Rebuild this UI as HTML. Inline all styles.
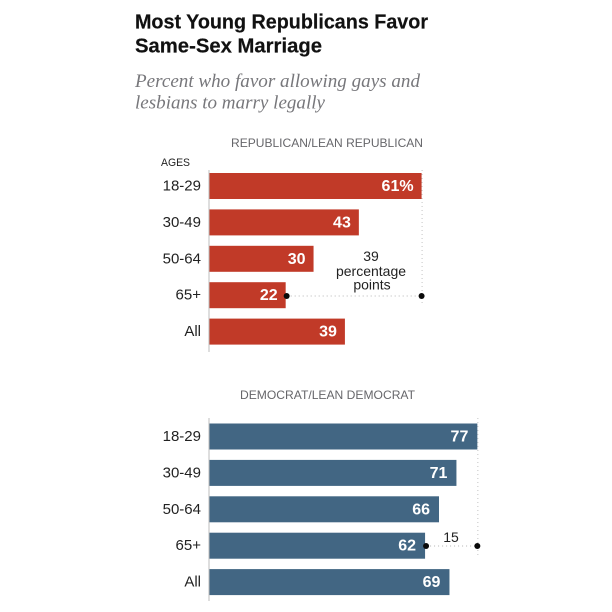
<!DOCTYPE html>
<html lang="en">
<head>
<meta charset="utf-8">
<title>Most Young Republicans Favor Same-Sex Marriage</title>
<style>
  html, body { margin: 0; padding: 0; background: #fff; }
  svg { display: block; filter: blur(0.35px); }
  text { font-family: "Liberation Sans", sans-serif; }
  .title { font-size: 20px; font-weight: 700; fill: #111; stroke: #111; stroke-width: 0.2px; }
  .sub { font-family: "Liberation Serif", serif; font-size: 18.5px; font-style: italic; fill: #77777b; }
  .head { font-size: 12px; fill: #66666a; }
  .cat { font-size: 15px; fill: #222; text-anchor: end; }
  .val { font-size: 16px; font-weight: 700; fill: #fff; text-anchor: end; }
  .note { font-size: 14px; fill: #222; text-anchor: middle; }
</style>
</head>
<body>
<svg id="chart" width="612" height="612" viewBox="0 0 612 612" xmlns="http://www.w3.org/2000/svg">
  <rect width="612" height="612" fill="#fff"/>
  <text class="title" x="135" y="28.5" textLength="293" lengthAdjust="spacingAndGlyphs">Most Young Republicans Favor</text>
  <text class="title" x="135" y="52.5" textLength="187" lengthAdjust="spacingAndGlyphs">Same-Sex Marriage</text>
  <text class="sub" x="135" y="87" textLength="285" lengthAdjust="spacingAndGlyphs">Percent who favor allowing gays and</text>
  <text class="sub" x="135" y="108.5" textLength="190" lengthAdjust="spacingAndGlyphs">lesbians to marry legally</text>
  <text class="head" x="231" y="147" textLength="192" lengthAdjust="spacingAndGlyphs">REPUBLICAN/LEAN REPUBLICAN</text>
  <text x="161" y="166" font-size="11" fill="#222" textLength="29" lengthAdjust="spacingAndGlyphs">AGES</text>
  <text class="head" x="240" y="399" textLength="175" lengthAdjust="spacingAndGlyphs">DEMOCRAT/LEAN DEMOCRAT</text>
</svg>
<script>
const categories = ["18-29", "30-49", "50-64", "65+", "All"];
const republicanValues = [61, 43, 30, 22, 39];
const democratValues = [77, 71, 66, 62, 69];
const republicanGap = 39;
const democratGap = 15;

const svg = document.getElementById('chart');
const NS = 'http://www.w3.org/2000/svg';
const xScale = v => 209 + v * 3.485;

function make(tag, attrs, text) {
  const el = document.createElementNS(NS, tag);
  for (const k in attrs) el.setAttribute(k, attrs[k]);
  if (text !== undefined) el.textContent = text;
  svg.appendChild(el);
  return el;
}

function drawPanel(key, values, color, top, axisTop, axisBottom, guideBottom, dotY) {
  const yFor = i => top + i * 36.4;
  const maxV = Math.max(...values);
  const minV = values[3];
  const inset = key === 'republican' ? 8 : 9;

  const guide = make('line', { x1: xScale(maxV) + 0.5, x2: xScale(maxV) + 0.5, y1: axisTop, y2: guideBottom, stroke: '#c4c4c4', 'stroke-width': 1, 'stroke-dasharray': '1 3' });
  
  

  values.forEach((v, i) => {
    const y = yFor(i);
    const bar = make('rect', { x: 209, y: y, width: xScale(v) - 209, height: 26, fill: color });
    
    

    const cat = make('text', { class: 'cat', x: 201, y: y + 17.5 }, categories[i]);
    
    

    const label = (key === 'republican' && i === 0) ? v + '%' : String(v);
    const val = make('text', { class: 'val', x: xScale(v) - inset, y: y + 18 }, label);
    
    
  });

  const axis = make('line', { x1: 209, x2: 209, y1: axisTop, y2: axisBottom, stroke: '#bdbdbd', 'stroke-width': 1 });
  
  

  const conn = make('line', { x1: xScale(minV) + 1, x2: xScale(maxV), y1: dotY, y2: dotY, stroke: '#b5b5b5', 'stroke-width': 1, 'stroke-dasharray': '1 3' });
  
  

  const dotA = make('circle', { cx: xScale(minV) + 1, cy: dotY, r: 3, fill: '#0a0a0a' });
  
  

  const dotB = make('circle', { cx: xScale(maxV), cy: dotY, r: 3, fill: '#0a0a0a' });
  
  
}

drawPanel('republican', republicanValues, '#c13a28', 173, 170, 352, 304, 296);
drawPanel('democrat', democratValues, '#426683', 423.5, 418, 601, 557, 546);

const repGap = make('text', { class: 'note', x: 371, y: 261, 'font-size': 14 }, String(republicanGap));


const repGapA = make('text', { class: 'note', x: 371, y: 276 }, 'percentage');


const repGapB = make('text', { class: 'note', x: 372, y: 289.5 }, 'points');


const demGap = make('text', { class: 'note', x: 451, y: 542 }, String(democratGap));


</script>
</body>
</html>
